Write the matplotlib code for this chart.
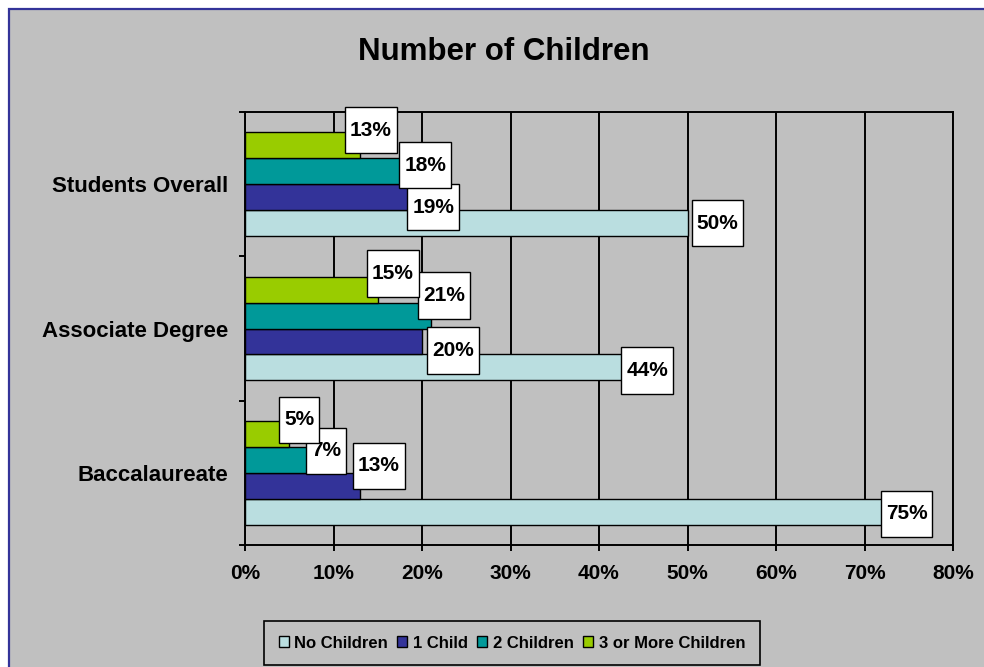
import matplotlib
matplotlib.use("Agg")
import matplotlib.pyplot as plt
from matplotlib.patches import Rectangle
from matplotlib.path import Path
import numpy as np

# ---- data -------------------------------------------------------------
categories = ["Baccalaureate", "Associate Degree", "Students Overall"]  # bottom -> top
series_names = ["No Children", "1 Child", "2 Children", "3 or More Children"]
no_children = [75, 44, 50]
one_child = [13, 20, 19]
two_children = [7, 21, 18]
three_plus = [5, 15, 13]
x_ticks = [0, 10, 20, 30, 40, 50, 60, 70, 80]

series_values = [no_children, one_child, two_children, three_plus]
colors = ["#BADEE0", "#333399", "#009999", "#99CC00"]

# label nudges in pixels (right, down) relative to bar end / bar centre,
# per series, per category (bottom -> top) so boxes don't collide
label_nudge = [
    [(-28, 2), (-13, 3), (4, 0)],
    [(-7, -20), (5, 9), (-6, 10)],
    [(-1, -9), (-13, -20), (-5, -6)],
    [(-10, -14), (-11, -16), (-15, -15)],
]

W, H, DPI = 984, 667, 100
BG = "#C0C0C0"
FONT = "Liberation Sans"
plt.rcParams["font.family"] = [FONT, "DejaVu Sans"]
plt.rcParams["font.weight"] = "bold"

fig = plt.figure(figsize=(W / DPI, H / DPI), dpi=DPI)
fig.patch.set_facecolor("white")

# chart area panel with navy border
fig.patches.append(Rectangle((9 / W, -0.1), 1.2, 1 - 9 / H + 0.1,
                             transform=fig.transFigure, facecolor=BG,
                             edgecolor="#333399", linewidth=1.6, zorder=-10))

ax = fig.add_axes([245 / W, 1 - 545 / H, (953 - 245) / W, (545 - 112) / H])
ax.set_facecolor(BG)

y = np.arange(len(categories))
bar_h = 0.18
px2pt = 72 / DPI


def label_box(x0, y0, width, height, mutation_size):
    # wider vertical padding than horizontal, like spreadsheet data labels
    px = 0.24 * mutation_size
    py = 0.66 * mutation_size
    x0, y0 = x0 - px, y0 - py
    x1, y1 = x0 + width + 2 * px, y0 + height + 2 * py
    return Path([(x0, y0), (x1, y0), (x1, y1), (x0, y1), (x0, y0)],
                closed=True)


for j, (vals, col) in enumerate(zip(series_values, colors)):
    ypos = y + (j - 1.5) * bar_h
    ax.barh(ypos, vals, height=bar_h, color=col, edgecolor="black",
            linewidth=1.0, zorder=3, label=series_names[j])
    for i, v in enumerate(vals):
        dx, dy = label_nudge[j][i]
        ax.annotate(f"{v}%", xy=(v, ypos[i]),
                    xytext=((dx + 5) * px2pt, -dy * px2pt),
                    textcoords="offset points", ha="left", va="center",
                    fontsize=15, fontweight="bold", color="black",
                    bbox=dict(boxstyle=label_box, facecolor="white",
                              edgecolor="black", linewidth=1.0),
                    zorder=5 + j, annotation_clip=False)

ax.set_xlim(0, 80)
ax.set_ylim(-0.5, len(categories) - 0.5)
ax.set_xticks(x_ticks)
ax.set_xticklabels([f"{t}%" for t in x_ticks], fontsize=15, fontweight="bold")
ax.xaxis.grid(True, color="black", linewidth=1.4, zorder=1)
ax.set_axisbelow(True)

# category ticks sit on group boundaries; names centred on groups
ax.set_yticks(np.arange(-0.5, len(categories), 1.0))
ax.set_yticklabels([])
ax.set_yticks(y, minor=True)
ax.set_yticklabels(categories, minor=True, fontsize=16, fontweight="bold")
ax.tick_params(axis="y", which="minor", length=0, pad=12)
ax.tick_params(axis="y", which="major", length=4, width=1.4, direction="out")
ax.tick_params(axis="x", length=4, width=1.4, direction="out", pad=10)

for s in ax.spines.values():
    s.set_color("black")
    s.set_linewidth(1.4)

fig.text(0.512, 1 - 52 / H, "Number of Children", ha="center", va="center",
         fontsize=22.5, fontweight="bold")

leg = fig.legend(loc="center", bbox_to_anchor=(512 / W, 1 - 643 / H),
                 ncol=4, frameon=True, fancybox=False,
                 prop={"family": FONT, "weight": "bold", "size": 12},
                 handlelength=0.6, handleheight=0.6, handletextpad=0.35,
                 columnspacing=0.55, borderpad=0.85, borderaxespad=0)
leg.get_frame().set_facecolor(BG)
leg.get_frame().set_edgecolor("black")
leg.get_frame().set_linewidth(1.2)
leg.get_frame().set_alpha(1)

fig.savefig("out.png", dpi=DPI, facecolor=fig.get_facecolor())
